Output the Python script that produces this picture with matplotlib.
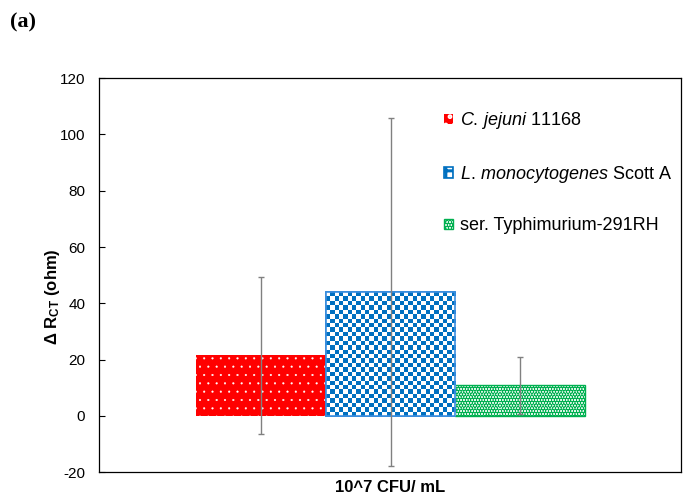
import matplotlib
matplotlib.use("Agg")
import matplotlib.pyplot as plt
import numpy as np

# data
strains = ["C. jejuni 11168", "L. monocytogenes Scott A", "ser. Typhimurium-291RH"]
labels = [r"$\mathit{C.\,jejuni}$ 11168",
          r"$\mathit{L.\,monocytogenes}$ Scott A",
          "ser. Typhimurium-291RH"]
delta_rct = [21.5, 44.0, 10.8]
err = [28.0, 62.0, 10.2]

plt.rcParams['font.family'] = ['Liberation Sans', 'DejaVu Sans']
plt.rcParams['mathtext.fontset'] = 'custom'
plt.rcParams['mathtext.rm'] = 'Liberation Sans'
plt.rcParams['mathtext.it'] = 'Liberation Sans:italic'
plt.rcParams['mathtext.bf'] = 'Liberation Sans:bold'
plt.rcParams['axes.unicode_minus'] = False

fig = plt.figure(figsize=(6.88, 4.98), dpi=100)
ax = fig.add_axes([0.144, 0.052, 0.846, 0.791])

x = np.arange(len(delta_rct))
w = 1.0

# red with small white dots
plt.rcParams['hatch.linewidth'] = 0.3
b1 = ax.bar(x[0], delta_rct[0], w, color='#FF0000', edgecolor='white',
            linewidth=0, hatch='..', label=labels[0])
# blue checkerboard (texture clipped to the bar)
plt.rcParams['hatch.linewidth'] = 2.0
b2 = ax.bar(x[1], delta_rct[1], w, facecolor='white', edgecolor='#0070C0',
            linewidth=1.2, hatch='++', label=labels[1])
bp = b2.patches[0]
ny, nx = 28, 30
checker = (np.add.outer(np.arange(ny), np.arange(nx)) % 2).astype(float)
im = ax.imshow(checker, cmap=matplotlib.colors.ListedColormap(['white', '#0070C0']),
               extent=(x[1] - w / 2, x[1] + w / 2, 0, delta_rct[1]),
               interpolation='nearest', aspect='auto', zorder=bp.get_zorder() + 0.1)
im.set_clip_path(bp)
ax.add_patch(plt.Rectangle((x[1] - w / 2, 0), w, delta_rct[1], fill=False,
                           edgecolor='#3D8FE0', linewidth=1.2, zorder=1.5))
# green speckle
plt.rcParams['hatch.linewidth'] = 2.2
b3 = ax.bar(x[2], delta_rct[2], w, facecolor='white', edgecolor='#00B050',
            linewidth=1.0, hatch='......', label=labels[2])

ax.errorbar(x, delta_rct, yerr=err, fmt='none', ecolor='#808080',
            elinewidth=1.0, capsize=2.5, capthick=1.0, zorder=3)

ax.set_xlim(-1.248, 3.24)
ax.set_ylim(-20, 120)
ax.set_yticks(np.arange(-20, 121, 20))
ax.set_xticks([])
ax.tick_params(axis='y', labelsize=11, direction='in', length=4, width=0.8, pad=10)
ax.set_xlabel('10^7 CFU/ mL', fontsize=12, fontweight='bold', labelpad=6)
ax.set_ylabel(r'Δ R$_{\mathbf{CT}}$ (ohm)', fontsize=12, fontweight='bold')
ax.yaxis.set_label_coords(-0.064, 0.445)
for s in ax.spines.values():
    s.set_linewidth(0.9)

ax.legend(loc='center left', bbox_to_anchor=(0.593, 0.761), frameon=False,
          fontsize=13, handlelength=0.5, handleheight=0.5, labelspacing=1.8,
          handletextpad=0.4, borderpad=0, borderaxespad=0)

fig.text(0.014, 0.945, '(a)', fontsize=16, fontweight='bold', family='Liberation Serif')

fig.savefig('out.png', dpi=100)
